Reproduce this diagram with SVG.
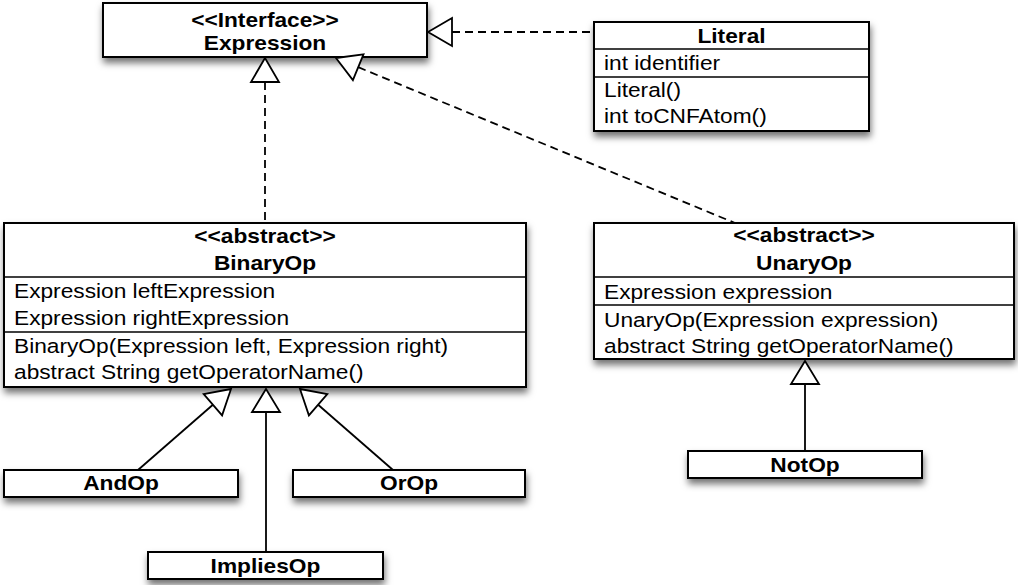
<svg xmlns="http://www.w3.org/2000/svg" width="1018" height="585" viewBox="0 0 1018 585">
  <style>
    .box { fill: #ffffff; stroke: #000000; stroke-width: 2; filter: url(#shadow); }
    .sep { stroke: #000000; stroke-width: 1.6; fill: none; }
    .t { font-family: "Liberation Sans", Arial, Helvetica, sans-serif; font-size: 19.5px; fill: #000000; }
    .b { font-weight: bold; }
    .c { text-anchor: middle; }
    .line { stroke: #000000; stroke-width: 1.8; fill: none; }
    .dash { stroke-dasharray: 8 5; }
    .head { fill: #ffffff; stroke: #000000; stroke-width: 1.8; stroke-linejoin: miter; }
  </style>
  <defs>
    <filter id="shadow" x="-10%" y="-20%" width="125%" height="170%">
      <feDropShadow dx="1" dy="5" stdDeviation="3.5" flood-color="#000000" flood-opacity="0.55"/>
    </filter>
  </defs>

  <rect width="1018" height="585" fill="#ffffff"/>

  <!-- connectors: realization (dashed) and generalization (solid) with hollow triangles -->
  <g id="connectors">
    <!-- BinaryOp realizes Expression -->
    <line class="line dash" x1="265" y1="82" x2="265" y2="223"/>
    <!-- UnaryOp realizes Expression -->
    <line class="line dash" x1="358.2" y1="67.2" x2="735" y2="223"/>
    <!-- Literal realizes Expression -->
    <line class="line dash" x1="452" y1="32" x2="594" y2="32"/>
    <!-- AndOp, ImpliesOp, OrOp extend BinaryOp -->
    <line class="line" x1="138" y1="470" x2="212.9" y2="404.8"/>
    <line class="line" x1="266" y1="412" x2="266" y2="552"/>
    <line class="line" x1="393" y1="470" x2="318.1" y2="404.8"/>
    <!-- NotOp extends UnaryOp -->
    <line class="line" x1="805" y1="384" x2="805" y2="451"/>
  </g>

  <g id="expression">
    <rect class="box" x="103" y="3" width="324" height="54"/>
    <text class="t b c" transform="translate(265 27) scale(1.165 1)">&lt;&lt;Interface&gt;&gt;</text>
    <text class="t b c" transform="translate(265 50) scale(1.165 1)">Expression</text>
  </g>

  <g id="literal">
    <rect class="box" x="594" y="22" width="275" height="109"/>
    <line class="sep" x1="594" y1="49" x2="869" y2="49"/>
    <line class="sep" x1="594" y1="77" x2="869" y2="77"/>
    <text class="t b c" transform="translate(731.5 43) scale(1.165 1)">Literal</text>
    <text class="t" transform="translate(604 70) scale(1.165 1)">int identifier</text>
    <text class="t" transform="translate(604 97) scale(1.165 1)">Literal()</text>
    <text class="t" transform="translate(604 123) scale(1.165 1)">int toCNFAtom()</text>
  </g>

  <g id="binaryop">
    <rect class="box" x="4" y="223" width="522" height="164"/>
    <line class="sep" x1="4" y1="277" x2="526" y2="277"/>
    <line class="sep" x1="4" y1="332" x2="526" y2="332"/>
    <text class="t b c" transform="translate(265 243) scale(1.165 1)">&lt;&lt;abstract&gt;&gt;</text>
    <text class="t b c" transform="translate(265 270) scale(1.165 1)">BinaryOp</text>
    <text class="t" transform="translate(14 298) scale(1.165 1)">Expression leftExpression</text>
    <text class="t" transform="translate(14 325) scale(1.165 1)">Expression rightExpression</text>
    <text class="t" transform="translate(14 353) scale(1.165 1)">BinaryOp(Expression left, Expression right)</text>
    <text class="t" transform="translate(14 379) scale(1.165 1)">abstract String getOperatorName()</text>
  </g>

  <g id="unaryop">
    <rect class="box" x="594" y="223" width="420" height="136"/>
    <line class="sep" x1="594" y1="277" x2="1014" y2="277"/>
    <line class="sep" x1="594" y1="305" x2="1014" y2="305"/>
    <text class="t b c" transform="translate(804 242) scale(1.165 1)">&lt;&lt;abstract&gt;&gt;</text>
    <text class="t b c" transform="translate(804 270) scale(1.165 1)">UnaryOp</text>
    <text class="t" transform="translate(604 299) scale(1.165 1)">Expression expression</text>
    <text class="t" transform="translate(604 327) scale(1.165 1)">UnaryOp(Expression expression)</text>
    <text class="t" transform="translate(604 353) scale(1.165 1)">abstract String getOperatorName()</text>
  </g>

  <g id="andop">
    <rect class="box" x="4" y="470" width="234" height="27"/>
    <text class="t b c" transform="translate(121 490) scale(1.165 1)">AndOp</text>
  </g>

  <g id="orop">
    <rect class="box" x="293" y="470" width="232" height="27"/>
    <text class="t b c" transform="translate(409 490) scale(1.165 1)">OrOp</text>
  </g>

  <g id="impliesop">
    <rect class="box" x="148" y="552" width="235" height="27"/>
    <text class="t b c" transform="translate(265.5 573) scale(1.165 1)">ImpliesOp</text>
  </g>

  <g id="notop">
    <rect class="box" x="688" y="451" width="234" height="27"/>
    <text class="t b c" transform="translate(805 472) scale(1.165 1)">NotOp</text>
  </g>

  <!-- hollow triangle heads drawn over the boxes' shadows -->
  <g id="arrowheads">
    <polygon class="head" points="265,58 251,82 279,82"/>
    <polygon class="head" points="336,58 363.5,54.3 352.9,80.1"/>
    <polygon class="head" points="428,32 452,18 452,46"/>
    <polygon class="head" points="231,389 203.7,394.2 222.1,415.4"/>
    <polygon class="head" points="266,389 252,412 280,412"/>
    <polygon class="head" points="300,389 327.3,394.2 308.9,415.4"/>
    <polygon class="head" points="805,361 791,384 819,384"/>
  </g>
</svg>
